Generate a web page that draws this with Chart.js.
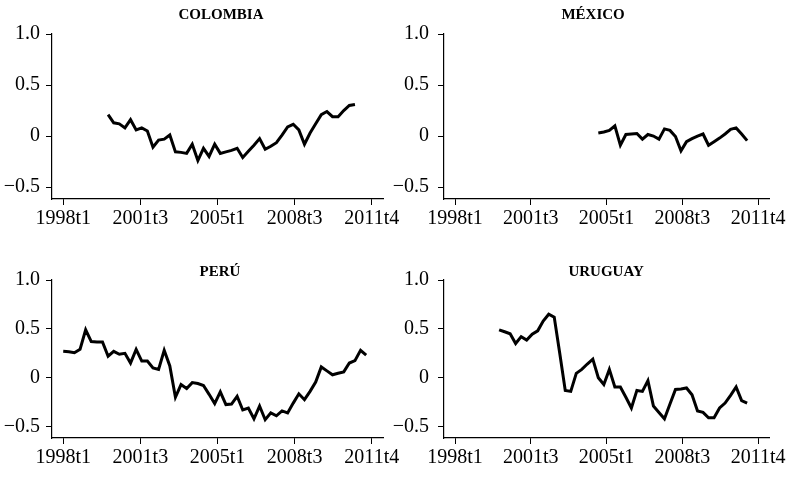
<!DOCTYPE html>
<html>
<head>
<meta charset="utf-8">
<title>Índice trimestral por país</title>
<script src="https://cdn.jsdelivr.net/npm/chart.js@4.4.1/dist/chart.umd.min.js"></script>
<style>
  html, body { margin: 0; padding: 0; background: #fff; }
  #wrap { position: relative; width: 791px; height: 479px; overflow: hidden; background: #fff; }
  canvas { position: absolute; }
</style>
</head>
<body>
<div id="wrap">
  <canvas id="colombia" width="410" height="240" style="left:0px;top:0px"></canvas>
  <canvas id="mexico" width="396" height="240" style="left:392px;top:0px"></canvas>
  <canvas id="peru" width="410" height="233" style="left:0px;top:246px"></canvas>
  <canvas id="uruguay" width="396" height="233" style="left:392px;top:246px"></canvas>
</div>
<script>
// Quarters are counted from 1998t1 (= 0) to 2011t4 (= 55).
const xTickValues = [0, 13.75, 27.5, 41.25, 55];
const xTickLabels = ['1998t1', '2001t3', '2005t1', '2008t3', '2011t4'];
const yTickValues = [-0.5, 0, 0.5, 1.0];
const yTickLabels = ['\u22120.5', '0', '0.5', '1.0'];

// Series: first quarter index, then one value per quarter.
const colombiaFirst = 8;
const colombia = [0.21, 0.13, 0.12, 0.08, 0.16, 0.06, 0.08, 0.05, -0.11, -0.04,
  -0.03, 0.01, -0.155, -0.16, -0.17, -0.08, -0.24, -0.12, -0.2, -0.08,
  -0.17, -0.155, -0.14, -0.12, -0.21, -0.15, -0.09, -0.025, -0.13, -0.1,
  -0.065, 0.01, 0.09, 0.115, 0.06, -0.08, 0.03, 0.12, 0.21, 0.24,
  0.19, 0.19, 0.25, 0.3, 0.31];

const mexicoFirst = 26;
const mexico = [0.03, 0.04, 0.055, 0.1, -0.09, 0.015, 0.02, 0.025, -0.03, 0.015,
  0.0, -0.03, 0.07, 0.055, -0.005, -0.145, -0.055, -0.025, 0.0, 0.02,
  -0.09, -0.055, -0.02, 0.02, 0.065, 0.08, 0.02, -0.045];

const peruFirst = 0;
const peru = [0.27, 0.265, 0.255, 0.29, 0.49, 0.37, 0.365, 0.365, 0.22, 0.27,
  0.24, 0.25, 0.15, 0.29, 0.17, 0.17, 0.1, 0.085, 0.28, 0.12,
  -0.2, -0.07, -0.11, -0.05, -0.06, -0.08, -0.17, -0.265, -0.145, -0.275,
  -0.27, -0.19, -0.33, -0.31, -0.42, -0.29, -0.43, -0.36, -0.39, -0.34,
  -0.36, -0.26, -0.165, -0.225, -0.14, -0.045, 0.11, 0.07, 0.03, 0.045,
  0.06, 0.15, 0.175, 0.28, 0.23];

const uruguayFirst = 8;
const uruguay = [0.49, 0.47, 0.45, 0.35, 0.42, 0.385, 0.445, 0.48, 0.58, 0.65,
  0.62, 0.25, -0.13, -0.14, 0.045, 0.085, 0.14, 0.19, 0.0, -0.07,
  0.085, -0.095, -0.095, -0.2, -0.31, -0.13, -0.14, -0.03, -0.29, -0.355,
  -0.42, -0.27, -0.12, -0.115, -0.105, -0.175, -0.34, -0.355, -0.41, -0.41,
  -0.31, -0.26, -0.18, -0.095, -0.235, -0.26];

const serif = '"Liberation Serif", "Times New Roman", serif';

// Panel heading, drawn above the plot area and centred on it (with a small nudge).
const panelTitle = {
  id: 'panelTitle',
  afterDraw(chart, args, opts) {
    const { ctx, chartArea } = chart;
    ctx.save();
    ctx.font = 'bold 15px ' + serif;
    ctx.fillStyle = '#000';
    ctx.textAlign = 'center';
    ctx.textBaseline = 'middle';
    ctx.fillText(opts.text, (chartArea.left + chartArea.right) / 2 + opts.dx, opts.y);
    ctx.restore();
  }
};

function toPoints(first, values) {
  return values.map((v, i) => ({ x: first + i, y: v }));
}

function makePanel(id, title, first, values, titleY, titleDx, yLabelPad) {
  const ctx = document.getElementById(id);
  const canvasW = ctx.width;
  return new Chart(ctx, {
    type: 'line',
    data: {
      datasets: [{
        data: toPoints(first, values),
        borderColor: '#000',
        borderWidth: 3,
        pointRadius: 0,
        tension: 0,
        fill: false
      }]
    },
    plugins: [panelTitle],
    options: {
      responsive: false,
      animation: false,
      devicePixelRatio: 1,
      layout: { padding: { left: 0, right: canvasW - 52 - 331, top: 34, bottom: 0 } },
      plugins: {
        legend: { display: false },
        tooltip: { enabled: false },
        title: { display: false },
        panelTitle: { text: title, y: titleY, dx: titleDx }
      },
      scales: {
        x: {
          type: 'linear',
          min: -2,
          max: 57,
          afterBuildTicks: s => { s.ticks = xTickValues.map(v => ({ value: v })); },
          afterFit: s => { s.height = 41; },
          ticks: {
            autoSkip: false,
            maxRotation: 0,
            color: '#000',
            padding: 2,
            font: { family: serif, size: 20 },
            callback: (v) => xTickLabels[xTickValues.indexOf(v)]
          },
          grid: { display: true, drawOnChartArea: false, drawTicks: true, tickLength: 6, color: '#000', lineWidth: 1 },
          border: { display: true, color: '#000', width: 1.2 }
        },
        y: {
          min: -0.617,
          max: 1.0,
          afterBuildTicks: s => { s.ticks = yTickValues.map(v => ({ value: v })); },
          afterFit: s => { s.width = 52; },
          ticks: {
            color: '#000',
            padding: yLabelPad,
            font: { family: serif, size: 20 },
            callback: (v) => yTickLabels[yTickValues.indexOf(v)]
          },
          grid: { display: true, drawOnChartArea: false, drawTicks: true, tickLength: 6, color: '#000', lineWidth: 1 },
          border: { display: true, color: '#000', width: 1.2 }
        }
      }
    }
  });
}

makePanel('colombia', 'COLOMBIA', colombiaFirst, colombia, 15, 3.5, 6);
makePanel('mexico', 'MÉXICO', mexicoFirst, mexico, 15, -13.5, 9);
makePanel('peru', 'PERÚ', peruFirst, peru, 26, 2.5, 6);
makePanel('uruguay', 'URUGUAY', uruguayFirst, uruguay, 26, -0.5, 9);
</script>
</body>
</html>
